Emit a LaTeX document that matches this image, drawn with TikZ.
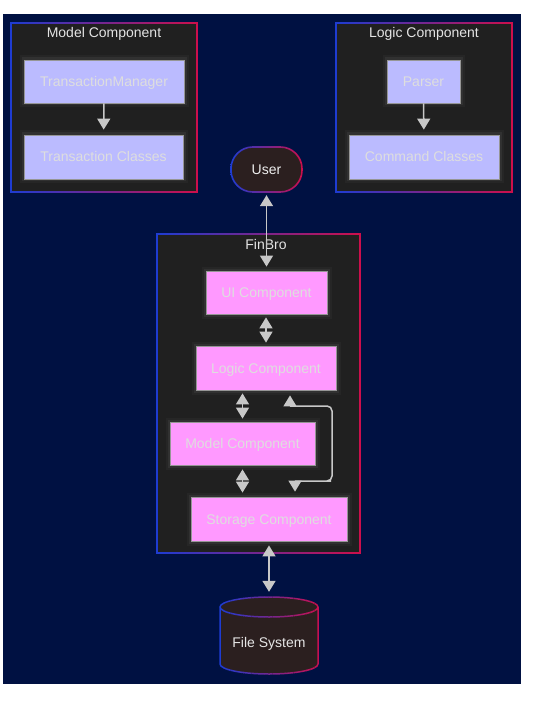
\documentclass[tikz,border=0pt]{standalone}
\usepackage{fontspec}
\setmainfont{Liberation Sans}
\usetikzlibrary{arrows.meta,calc}
\definecolor{navy}{RGB}{0,17,66}
\definecolor{clfill}{RGB}{32,32,32}
\definecolor{bBlue}{RGB}{30,60,210}
\definecolor{bRed}{RGB}{205,15,75}
\definecolor{lav}{RGB}{187,187,255}
\definecolor{pinkc}{RGB}{255,153,255}
\definecolor{txtlight}{RGB}{222,222,222}
\definecolor{titlec}{RGB}{228,228,228}
\definecolor{edgec}{RGB}{200,200,200}
\definecolor{boxedge}{RGB}{150,150,150}
\definecolor{userfill}{RGB}{43,31,31}
\newcommand\gradframe[4]{%
  \fill[clfill] (#1,#2) rectangle (#3,#4);
  \shade[left color=bBlue, right color=bRed, even odd rule]
    (#1-0.8,#2-0.8) rectangle (#3+0.8,#4+0.8)
    (#1+0.8,#2+0.8) rectangle (#3-0.8,#4-0.8);
}
\tikzset{
  every node/.style={font=\fontsize{14}{17}\selectfont},
  box/.style={draw=boxedge, line width=0.8pt, text=txtlight, inner sep=0pt,
    text height=10pt, text depth=0pt,
    preaction={draw=white, draw opacity=0.03, line width=9pt},
    preaction={draw=white, draw opacity=0.05, line width=5pt}},
  lavbox/.style={box, fill=lav},
  pinkbox/.style={box, fill=pinkc},
  cltitle/.style={text=titlec, anchor=base, inner sep=0pt},
  conn/.style={draw=edgec, line width=1.5pt},
  onehead/.style={conn, -{Triangle[length=11pt,width=13pt]}},
  twohead/.style={conn, {Triangle[length=11pt,width=13pt]}-{Triangle[length=11pt,width=13pt]}}
}
\begin{document}
\begin{tikzpicture}[x=1pt,y=-1pt]
\useasboundingbox (0,0) rectangle (538,703);
\fill[white] (0,0) rectangle (538,703);
\fill[navy] (3,14) rectangle (521,684);

% Model Component cluster
\gradframe{11}{23}{197}{192}
\node[cltitle] (modeltitle) at (104,38) {Model Component};
\node[lavbox, minimum width=160pt, minimum height=43pt] (tm) at (104,81.5) {TransactionManager};
\node[lavbox, minimum width=159pt, minimum height=44pt] (tc) at (103.5,157) {Transaction Classes};

% Logic Component cluster
\gradframe{336}{23}{512}{192}
\node[cltitle] (logictitle) at (424,38) {Logic Component};
\node[lavbox, minimum width=73pt, minimum height=43pt] (parser) at (423.5,81.5) {Parser};
\node[lavbox, minimum width=150pt, minimum height=44pt] (cc) at (424,157) {Command Classes};

% FinBro cluster
\gradframe{157}{234}{360}{553}
\node[cltitle] (finbrotitle) at (266,249) {FinBro};
\node[pinkbox, minimum width=121pt, minimum height=43pt] (ui) at (266.5,292.5) {UI Component};
\node[pinkbox, minimum width=140pt, minimum height=44pt] (logic) at (266,368) {Logic Component};
\node[pinkbox, minimum width=145pt, minimum height=43pt] (model) at (242.5,443.5) {Model Component};
\node[pinkbox, minimum width=156pt, minimum height=44pt] (storage) at (269,519) {Storage Component};

% User
\fill[userfill, rounded corners=22.5pt] (231,147) rectangle (302,192);
\shade[left color=bBlue, right color=bRed, even odd rule]
  [rounded corners=22.5pt] (230.2,146.2) rectangle (302.8,192.8)
  [rounded corners=21pt] (231.8,147.8) rectangle (301.2,191.2);
\node[text={rgb,255:red,238;green,238;blue,238}, minimum width=71pt, minimum height=45pt,
  inner sep=0pt, text height=10pt, text depth=0pt] (user) at (266.5,169.5) {User};

% File System cylinder
\fill[userfill] (220,607) -- (220,664)
  arc[start angle=180,end angle=360,x radius=49pt,y radius=10pt] -- (318,607)
  arc[start angle=0,end angle=180,x radius=49pt,y radius=10pt] -- cycle;
\foreach \i in {0,...,24} {
  \pgfmathtruncatemacro\pct{100*\i/24}
  \colorlet{stripc}{bRed!\pct!bBlue}
  \begin{scope}
    \clip (218+\i*4.2,590) rectangle ++(4.3,90);
    \draw[stripc, line width=1.5pt] (220,607) -- (220,664)
      arc[start angle=180,end angle=360,x radius=49pt,y radius=10pt] -- (318,607)
      (269,607) ellipse [x radius=49pt, y radius=10pt];
  \end{scope}
}
\node[minimum width=98pt, minimum height=77pt, inner sep=0pt] (fs) at (269,635.5) {};
\node[anchor=base, inner sep=0pt, text={rgb,255:red,230;green,230;blue,230}] (fstext) at (269,647) {File System};

% connectors
\draw[onehead, shorten >=5pt] (tm) -- (tc);
\draw[onehead, shorten >=5pt] (parser) -- (cc);
\draw[twohead, shorten <=3pt, shorten >=4pt] (user) -- (ui);
\draw[twohead, shorten <=3pt, shorten >=3pt] (ui.south -| logic.north) -- (logic.north);
\draw[twohead, shorten <=3pt, shorten >=3pt] (logic.south -| model.north) -- (model.north);
\draw[twohead, shorten <=4pt, shorten >=4pt] (model.south) -- (model.south |- storage.north);
\draw[twohead, shorten <=4pt, shorten >=5pt] (storage.south) -- (fs.north);
\draw[twohead] ([xshift=24pt,yshift=-5pt]logic.south) -- (290,406) -- (326,406)
  [rounded corners=5pt] -- (332,406) -- (332,481) -- (326,481)
  [sharp corners] -- (295,481) -- ([xshift=26pt,yshift=5pt]storage.north);
\end{tikzpicture}
\end{document}
